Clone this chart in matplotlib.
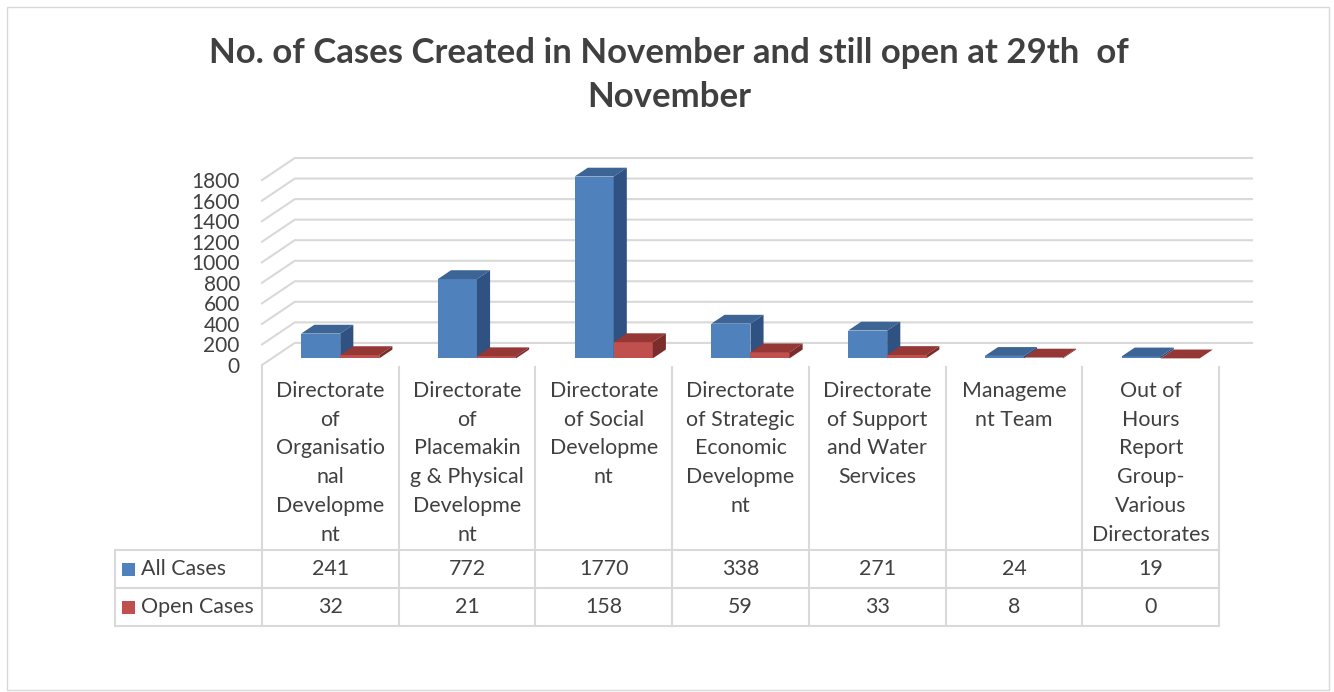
import matplotlib
matplotlib.use('Agg')
import matplotlib.pyplot as plt
import matplotlib.transforms as mtransforms
from matplotlib.patches import Polygon, Rectangle
from matplotlib.lines import Line2D

# Data
categories = [
    'Directorate\nof\nOrganisatio\nnal\nDevelopme\nnt',
    'Directorate\nof\nPlacemakin\ng & Physical\nDevelopme\nnt',
    'Directorate\nof Social\nDevelopme\nnt',
    'Directorate\nof Strategic\nEconomic\nDevelopme\nnt',
    'Directorate\nof Support\nand Water\nServices',
    'Manageme\nnt Team',
    'Out of\nHours\nReport\nGroup-\nVarious\nDirectorates',
]
all_cases = [241, 772, 1770, 338, 271, 24, 19]
open_cases = [32, 21, 158, 59, 33, 8, 0]
series_names = ['All Cases', 'Open Cases']
y_ticks = list(range(0, 1801, 200))
title = 'No. of Cases Created in November and still open at 29th  of\nNovember'

# styling
W, H = 1334, 692
FONT = 'Lato'
TXT = '#404040'
GRID = '#d9d9d9'
colors = {
    'All Cases': ('#4F81BD', '#3C6494', '#2F5282'),
    'Open Cases': ('#C0504D', '#953735', '#7B2D2B'),
}
depth_x = 0.24      # depth of the 3D box in category units
depth_y = 215       # depth of the 3D box in value units
bar_d0, bar_d1 = 0.3, 0.7
gap = 0.2143        # half gap on each side
bar_w = 0.2857

plt.rcParams['font.family'] = [FONT, 'DejaVu Sans']


def fx(px):
    return px / W


def fy(py):
    return 1 - py / H


fig = plt.figure(figsize=(W / 100, H / 100), dpi=100)
fig.patch.set_facecolor('white')
fig.add_artist(Rectangle((fx(7), fy(690)), fx(1329) - fx(7), fy(7) - fy(690),
                         transform=fig.transFigure, fill=False, ec=GRID, lw=1))

ax = fig.add_axes([fx(262), fy(365), fx(1252) - fx(262), (365 - 158) / H])
n = len(categories)
ymax = y_ticks[-1]
ax.set_xlim(0, n + depth_x)
ax.set_ylim(0, ymax + depth_y)
for s in ax.spines.values():
    s.set_visible(False)
ax.set_xticks([])
ax.set_yticks(y_ticks)
ax.set_yticklabels([str(v) for v in y_ticks], fontsize=15, color=TXT)
ax.tick_params(axis='y', length=0, pad=16)
ax.patch.set_alpha(0)

# walls: gridlines on side wall and back wall
for v in y_ticks:
    ax.plot([0, depth_x, n + depth_x], [v, v + depth_y, v + depth_y],
            color=GRID, lw=1.5, clip_on=False, zorder=1)

# 3D bars
dx = (bar_d1 - bar_d0) * depth_x
dy = (bar_d1 - bar_d0) * depth_y
for i in range(n):
    for j, (name, vals) in enumerate(zip(series_names, [all_cases, open_cases])):
        front, top, side = colors[name]
        v = vals[i]
        xl = i + gap + j * bar_w + bar_d0 * depth_x
        xr = xl + bar_w
        y0 = bar_d0 * depth_y
        yt = y0 + v
        ax.add_patch(Rectangle((xl, y0), bar_w, v, fc=front, ec='none', zorder=3))
        ax.add_patch(Polygon([(xl, yt), (xr, yt), (xr + dx, yt + dy), (xl + dx, yt + dy)],
                             closed=True, fc=top, ec='none', zorder=3))
        ax.add_patch(Polygon([(xr, y0), (xr, yt), (xr + dx, yt + dy), (xr + dx, y0 + dy)],
                             closed=True, fc=side, ec='none', zorder=3))

# data table under the chart
tr = mtransforms.blended_transform_factory(ax.transData, fig.transFigure)
table_left = -1.075
row_lines = [550, 588, 626]
for i in range(n + 1):
    fig.add_artist(Line2D([i, i], [fy(367), fy(626)], transform=tr, color=GRID, lw=1.5))
fig.add_artist(Line2D([table_left, table_left], [fy(550), fy(626)], transform=tr,
                      color=GRID, lw=1.5))
for py in row_lines:
    fig.add_artist(Line2D([table_left, n], [fy(py), fy(py)], transform=tr, color=GRID, lw=1.5))

for i, lab in enumerate(categories):
    fig.text(i + 0.5, fy(381), lab, transform=tr, ha='center', va='top',
             fontsize=15.4, color=TXT, linespacing=1.545)

row_centers = [569, 607]
for name, vals, py in zip(series_names, [all_cases, open_cases], row_centers):
    fig.add_artist(Rectangle((fx(122), fy(py + 7)), fx(13), 13 / H,
                             transform=fig.transFigure, fc=colors[name][0], ec='none'))
    fig.text(fx(141), fy(py), name, ha='left', va='center', fontsize=15.4, color=TXT)
    for i, v in enumerate(vals):
        fig.text(i + 0.5, fy(py), str(v), transform=tr, ha='center', va='center',
                 fontsize=15.4, color=TXT)

fig.text(fx(669), fy(75), title, ha='center', va='center', fontsize=25,
         fontweight='bold', color=TXT, linespacing=1.48)

fig.savefig('out.png', dpi=100)
